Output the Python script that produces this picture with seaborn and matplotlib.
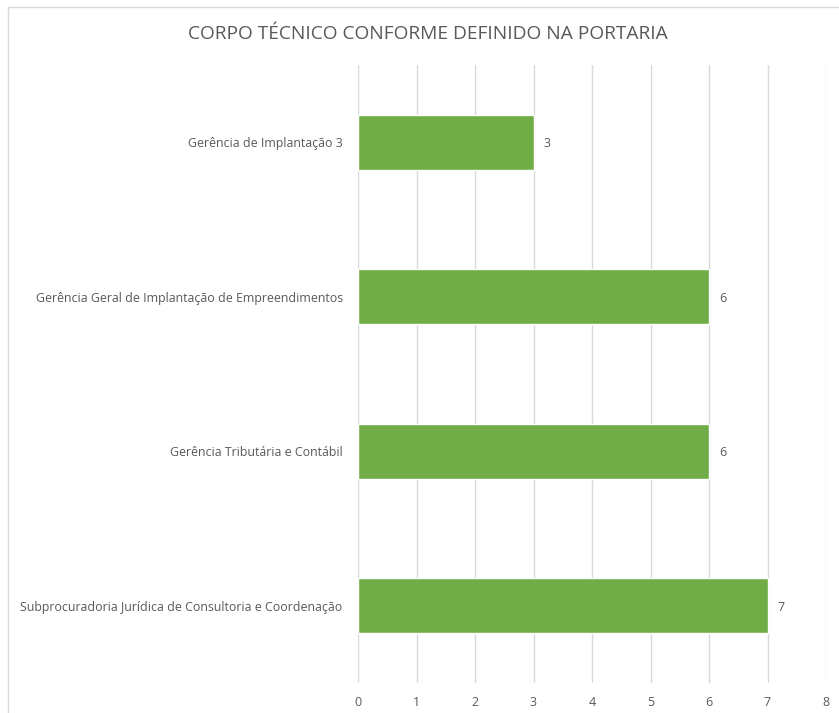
import matplotlib
matplotlib.use("Agg")
import matplotlib.pyplot as plt
import seaborn as sns
import pandas as pd
from matplotlib.patches import Rectangle

# --------------------------------------------------------
# Data
# --------------------------------------------------------

categories = [
    "Gerência de Implantação 3",
    "Gerência Geral de Implantação de Empreendimentos",
    "Gerência Tributária e Contábil",
    "Subprocuradoria Jurídica de Consultoria e Coordenação",
]

values = [3, 6, 6, 7]

x_ticks = [0, 1, 2, 3, 4, 5, 6, 7, 8]

TITLE = "CORPO TÉCNICO CONFORME DEFINIDO NA PORTARIA"

BAR_COLOR = "#70AD47"
TEXT_COLOR = "#595959"
GRID_COLOR = "#D9D9D9"

# --------------------------------------------------------
# Plot
# --------------------------------------------------------

sns.set_theme(style="white")
plt.rcParams["font.family"] = ["Open Sans", "DejaVu Sans"]

df = pd.DataFrame({"categoria": categories, "valor": values})

fig = plt.figure(figsize=(8.39, 7.13), dpi=100)
ax = fig.add_axes([358 / 839, 1 - 683 / 713, (826 - 358) / 839, (683 - 65) / 713])

# chart frame
fig.patches.append(
    Rectangle(
        (8 / 839, -0.05), 1.1, 1 - 7 / 713 + 0.05,
        transform=fig.transFigure, fill=False,
        edgecolor=GRID_COLOR, linewidth=1.0
    )
)

sns.barplot(
    data=df,
    x="valor",
    y="categoria",
    orient="h",
    color=BAR_COLOR,
    width=0.355,
    saturation=1,
    ax=ax,
    zorder=3
)

ax.set_xlim(0, 8)
ax.set_xticks(x_ticks)
ax.set_ylim(3.5, -0.5)

ax.grid(axis="x", color=GRID_COLOR, linewidth=1.0, zorder=0)
ax.set_axisbelow(True)

for side in ["top", "right", "bottom", "left"]:
    ax.spines[side].set_visible(False)

ax.tick_params(axis="both", length=0, colors=TEXT_COLOR)
ax.tick_params(axis="x", pad=9, labelsize=9)
ax.tick_params(axis="y", pad=11, labelsize=8.9)

ax.set_xlabel("")
ax.set_ylabel("")

for i, v in enumerate(values):
    ax.text(
        v + 0.17, i + 0.01, str(v),
        va="center", ha="left",
        fontsize=9, color=TEXT_COLOR
    )

fig.text(
    428 / 839, 1 - 34 / 713, TITLE,
    ha="center", va="center",
    fontsize=13.8, color=TEXT_COLOR
)

fig.savefig("out.png", dpi=100)
plt.close(fig)
